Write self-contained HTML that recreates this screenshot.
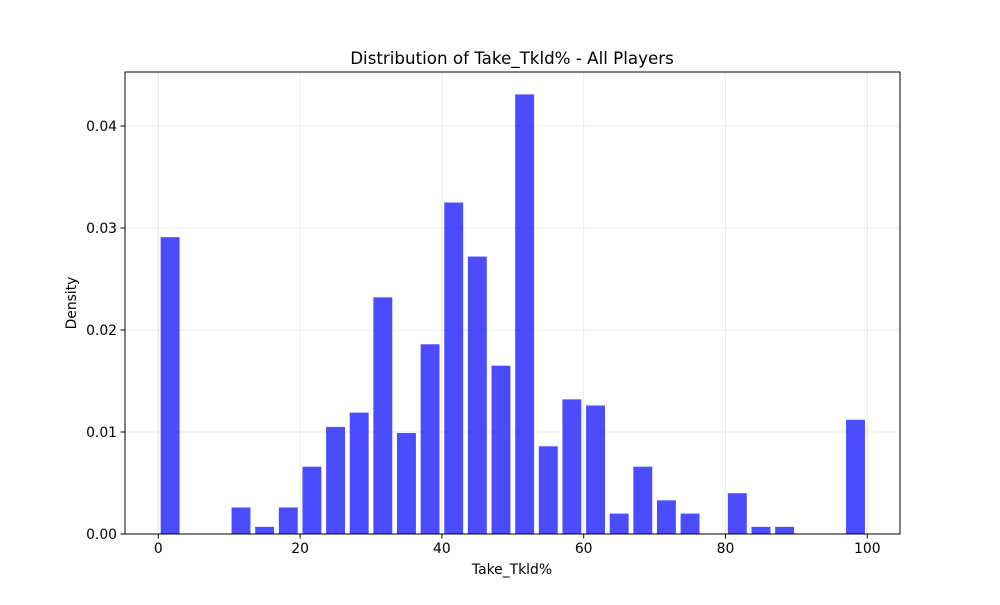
<!DOCTYPE html>
<html><head><meta charset="utf-8"><style>
body{margin:0;background:#fff}
svg text{font-family:"DejaVu Sans","Liberation Sans",sans-serif;fill:#000}
</style></head><body>
<svg id="chart" width="1000" height="600" xmlns="http://www.w3.org/2000/svg">
<rect width="1000" height="600" fill="#fff"/>
<g id="grid"></g>
<g id="bars"></g>
<rect x="125" y="72" width="775" height="462" fill="none" stroke="#000" stroke-width="1"/>
<g id="xticks"></g>
<g id="yticks"></g>
<text x="512" y="64" text-anchor="middle" font-size="16.7">Distribution of Take_Tkld% - All Players</text>
<text x="512" y="574" text-anchor="middle" font-size="13.9">Take_Tkld%</text>
<text transform="translate(76,303) rotate(-90)" text-anchor="middle" font-size="13.9">Density</text>
</svg>
<script>
const binStart = 0;
const binWidth = 100/30;
const densities = [0.0291,0,0,0.0026,0.0007,0.0026,0.0066,0.0105,0.0119,0.0232,0.0099,0.0186,0.0325,0.0272,0.0165,0.0431,0.0086,0.0132,0.0126,0.0020,0.0066,0.0033,0.0020,0,0.0040,0.0007,0.0007,0,0,0.0112];
const xTicks = [0,20,40,60,80,100];
const yTicks = [0,0.01,0.02,0.03,0.04];
const yTickLabels = ["0.00","0.01","0.02","0.03","0.04"];
const NS="http://www.w3.org/2000/svg";
const X=v=>158.3+7.09*v;
const Y=v=>534-10200*v;
function mk(t,a){const e=document.createElementNS(NS,t);for(const k in a)e.setAttribute(k,a[k]);return e;}
const grid=document.getElementById('grid'),bars=document.getElementById('bars'),xt=document.getElementById('xticks'),yt=document.getElementById('yticks');
xTicks.forEach(v=>{
  const g=mk('line',{x1:X(v),x2:X(v),y1:72,y2:534,stroke:'#b0b0b0','stroke-opacity':0.3,'stroke-width':0.8});
  grid.appendChild(g);
  const t=mk('line',{x1:X(v),x2:X(v),y1:534,y2:538.5,stroke:'#000'});
  xt.appendChild(t);
  const l=mk('text',{x:X(v),y:553,'text-anchor':'middle','font-size':13.9});l.textContent=v;
  xt.appendChild(l);
});
yTicks.forEach((v,i)=>{
  const g=mk('line',{x1:125,x2:900,y1:Y(v),y2:Y(v),stroke:'#b0b0b0','stroke-opacity':0.3,'stroke-width':0.8});
  grid.appendChild(g);
  const t=mk('line',{x1:120.5,x2:125,y1:Y(v),y2:Y(v),stroke:'#000'});
  yt.appendChild(t);
  const l=mk('text',{x:117,y:Y(v)+5,'text-anchor':'end','font-size':13.9});l.textContent=yTickLabels[i];
  yt.appendChild(l);
});
densities.forEach((d,i)=>{
  if(d<=0)return;
  const x0=binStart+binWidth*(i+0.1),x1=binStart+binWidth*(i+0.9);
  const r=mk('rect',{x:X(x0),width:X(x1)-X(x0),y:Y(d),height:Y(0)-Y(d),fill:'#0000ff','fill-opacity':0.7});
  bars.appendChild(r);
});
</script>
</body></html>
